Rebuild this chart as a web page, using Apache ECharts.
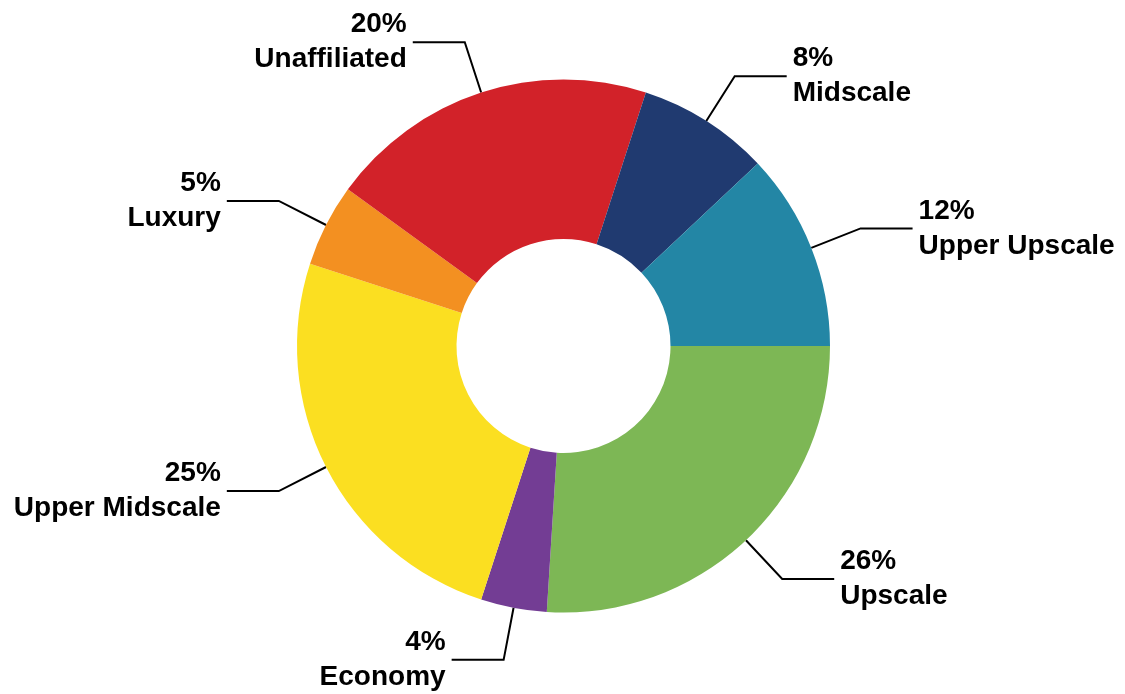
<!DOCTYPE html>
<html>
<head>
<meta charset="utf-8">
<title>Hotel segments</title>
<script src="https://cdn.jsdelivr.net/npm/echarts@6/dist/echarts.min.js"></script>
<style>
  html, body { margin: 0; padding: 0; background: #ffffff; }
  #chart { width: 1125px; height: 694px; }
</style>
</head>
<body>
<div id="chart"></div>
<script>
// Segments, clockwise from 3 o'clock
const segments = ['Upscale', 'Economy', 'Upper Midscale', 'Luxury', 'Unaffiliated', 'Midscale', 'Upper Upscale'];
const shares = [26, 4, 25, 5, 20, 8, 12];
const colors = ['#7db755', '#733d94', '#fbdf21', '#f39021', '#d22229', '#203a70', '#2386a5'];

const chart = echarts.init(document.getElementById('chart'), null, { renderer: 'canvas' });

chart.setOption({
  backgroundColor: '#ffffff',
  animation: false,
  series: [{
    type: 'pie',
    center: [563.5, 346],
    radius: [107, 266.5],
    startAngle: 0,
    clockwise: true,
    avoidLabelOverlap: false,
    data: segments.map((name, i) => ({
      name: name,
      value: shares[i],
      itemStyle: { color: colors[i] }
    })),
    itemStyle: { borderWidth: 0 },
    label: {
      show: true,
      position: 'outside',
      alignTo: 'none',
      overflow: 'none',
      formatter: '{c}%\n{b}',
      fontFamily: 'Liberation Sans, Arial, sans-serif',
      fontWeight: 'bold',
      fontSize: 28,
      lineHeight: 35,
      color: '#000000',
      distanceToLabelLine: 6
    },
    labelLine: {
      show: true,
      length: 53,
      length2: 52,
      smooth: false,
      lineStyle: { color: '#000000', width: 2 }
    },
    emphasis: { disabled: true }
  }]
});
</script>
</body>
</html>
